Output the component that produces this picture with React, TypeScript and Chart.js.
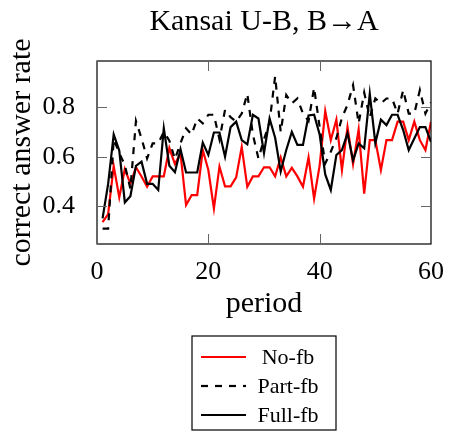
import React, { useEffect, useRef } from 'react';
import { Chart, registerables } from 'chart.js';

Chart.register(...registerables);

const titleText = 'Kansai U-B, B\u2192A';
const xLabel = 'period';
const yLabel = 'correct answer rate';
const xTicks = [0, 20, 40, 60];
const yTicks = [0.4, 0.6, 0.8];

const periods = [
  1, 2, 3, 4, 5, 6, 7, 8, 9, 10,
  11, 12, 13, 14, 15, 16, 17, 18, 19, 20,
  21, 22, 23, 24, 25, 26, 27, 28, 29, 30,
  31, 32, 33, 34, 35, 36, 37, 38, 39, 40,
  41, 42, 43, 44, 45, 46, 47, 48, 49, 50,
  51, 52, 53, 54, 55, 56, 57, 58, 59, 60,
];

const noFb = [
  0.335, 0.367, 0.562, 0.435, 0.55, 0.49, 0.557, 0.52, 0.478, 0.52,
  0.52, 0.52, 0.635, 0.57, 0.613, 0.404, 0.444, 0.444, 0.627, 0.546,
  0.39, 0.56, 0.48, 0.48, 0.516, 0.64, 0.478, 0.52, 0.52, 0.557,
  0.557, 0.52, 0.597, 0.52, 0.555, 0.52, 0.478, 0.597, 0.43, 0.565,
  0.785, 0.667, 0.75, 0.546, 0.72, 0.57, 0.71, 0.45, 0.667, 0.667,
  0.546, 0.667, 0.667, 0.742, 0.742, 0.667, 0.742, 0.667, 0.627, 0.742,
];

const partFb = [
  0.308, 0.308, 0.67, 0.615, 0.566, 0.47, 0.745, 0.674, 0.593, 0.654,
  0.654, 0.7, 0.665, 0.59, 0.654, 0.715, 0.69, 0.755, 0.735, 0.77,
  0.77, 0.67, 0.79, 0.76, 0.742, 0.775, 0.855, 0.69, 0.593, 0.67,
  0.74, 0.926, 0.7, 0.85, 0.816, 0.836, 0.775, 0.745, 0.88, 0.72,
  0.573, 0.62, 0.675, 0.758, 0.81, 0.89, 0.735, 0.86, 0.76, 0.836,
  0.816, 0.836, 0.836, 0.775, 0.87, 0.775, 0.775, 0.87, 0.775, 0.82,
];

const fullFb = [
  0.35, 0.49, 0.69, 0.625, 0.415, 0.44, 0.563, 0.58, 0.49, 0.49,
  0.465, 0.715, 0.563, 0.537, 0.63, 0.536, 0.536, 0.536, 0.657, 0.607,
  0.698, 0.698, 0.6, 0.72, 0.742, 0.667, 0.65, 0.77, 0.755, 0.615,
  0.755, 0.677, 0.54, 0.627, 0.7, 0.648, 0.648, 0.767, 0.77, 0.69,
  0.528, 0.465, 0.607, 0.627, 0.695, 0.585, 0.654, 0.634, 0.855, 0.655,
  0.75, 0.728, 0.77, 0.77, 0.708, 0.627, 0.674, 0.72, 0.72, 0.66,
];

const seriesNames = ['No-fb', 'Part-fb', 'Full-fb'];
const seriesColors = ['#ff0000', '#000000', '#000000'];
const seriesDashes: number[][] = [[], [7, 7], []];

const FONT = '"Liberation Serif", "DejaVu Serif", serif';

const framePlugin = {
  id: 'framePlugin',
  afterDraw(chart: any) {
    const { ctx, chartArea } = chart;
    const xs = chart.scales.x;
    const ys = chart.scales.y;
    const { left, right, top, bottom } = chartArea;
    const TL = 10;
    ctx.save();
    ctx.strokeStyle = '#000';
    ctx.lineWidth = 1.2;
    ctx.setLineDash([]);
    ctx.strokeRect(left, top, right - left, bottom - top);
    ctx.strokeStyle = '#666';
    ctx.lineWidth = 1;
    ctx.beginPath();
    xTicks.forEach((v) => {
      const px = Math.round(xs.getPixelForValue(v)) + 0.5;
      ctx.moveTo(px, bottom);
      ctx.lineTo(px, bottom - TL);
      ctx.moveTo(px, top);
      ctx.lineTo(px, top + TL);
    });
    yTicks.forEach((v) => {
      const py = Math.round(ys.getPixelForValue(v)) + 0.5;
      ctx.moveTo(left, py);
      ctx.lineTo(left + TL, py);
      ctx.moveTo(right, py);
      ctx.lineTo(right - TL, py);
    });
    ctx.stroke();

    // legend box
    const lx = 192, ly = 336, lw = 144, lh = 94;
    ctx.fillStyle = '#fff';
    ctx.fillRect(lx, ly, lw, lh);
    ctx.strokeStyle = '#000';
    ctx.lineWidth = 1.2;
    ctx.strokeRect(lx, ly, lw, lh);
    ctx.font = `22px ${FONT}`;
    ctx.textAlign = 'center';
    ctx.textBaseline = 'middle';
    seriesNames.forEach((name, i) => {
      const y = ly + 21 + i * 29;
      ctx.strokeStyle = seriesColors[i];
      ctx.lineWidth = 2.2;
      ctx.setLineDash(seriesDashes[i]);
      ctx.beginPath();
      ctx.moveTo(lx + 9, y);
      ctx.lineTo(lx + 54, y);
      ctx.stroke();
      ctx.setLineDash([]);
      ctx.fillStyle = '#000';
      ctx.fillText(name, lx + 96, y + 1);
    });
    ctx.restore();
  },
};

export default function App() {
  const ref = useRef<HTMLCanvasElement | null>(null);
  useEffect(() => {
    if (!ref.current) return;
    const seriesData = [noFb, partFb, fullFb];
    const chart = new Chart(ref.current, {
      type: 'line',
      data: {
        datasets: seriesData.map((vals, i) => ({
          label: seriesNames[i],
          data: periods.map((p, j) => ({ x: p, y: vals[j] })),
          borderColor: seriesColors[i],
          backgroundColor: seriesColors[i],
          borderWidth: 2.2,
          borderDash: seriesDashes[i],
          pointRadius: 0,
          tension: 0,
          fill: false,
          order: 3 - i,
        })),
      },
      options: {
        responsive: false,
        animation: false,
        devicePixelRatio: 1,
        layout: { padding: { top: 0, right: 18, bottom: 113, left: 0 } },
        plugins: {
          legend: { display: false },
          tooltip: { enabled: false },
          title: {
            display: true,
            text: titleText,
            fullSize: false,
            color: '#000',
            font: { family: FONT, size: 30, weight: 'normal' },
            padding: { top: 4, bottom: 21 },
          },
        },
        scales: {
          x: {
            type: 'linear',
            min: 0,
            max: 60,
            grid: { display: false },
            border: { display: false },
            afterBuildTicks: (s: any) => {
              s.ticks = xTicks.map((v) => ({ value: v }));
            },
            afterFit: (s: any) => {
              s.height = 82;
            },
            ticks: {
              color: '#000',
              padding: 5,
              maxRotation: 0,
              font: { family: FONT, size: 26 },
              callback: (v: any) => String(v),
            },
            title: {
              display: true,
              text: xLabel,
              color: '#000',
              font: { family: FONT, size: 30 },
            },
          },
          y: {
            type: 'linear',
            min: 0.246,
            max: 0.988,
            grid: { display: false },
            border: { display: false },
            afterBuildTicks: (s: any) => {
              s.ticks = yTicks.map((v) => ({ value: v }));
            },
            afterFit: (s: any) => {
              s.width = 97;
            },
            ticks: {
              color: '#000',
              padding: 14,
              font: { family: FONT, size: 26 },
              callback: (v: any) => Number(v).toFixed(1),
            },
            title: {
              display: true,
              text: yLabel,
              color: '#000',
              font: { family: FONT, size: 30 },
            },
          },
        },
      },
      plugins: [framePlugin],
    });
    return () => chart.destroy();
  }, []);
  return (
    <div style={{ position: 'fixed', left: 0, top: 0, width: 449, height: 439, background: '#fff' }}>
      <canvas ref={ref} width={449} height={439} />
    </div>
  );
}
